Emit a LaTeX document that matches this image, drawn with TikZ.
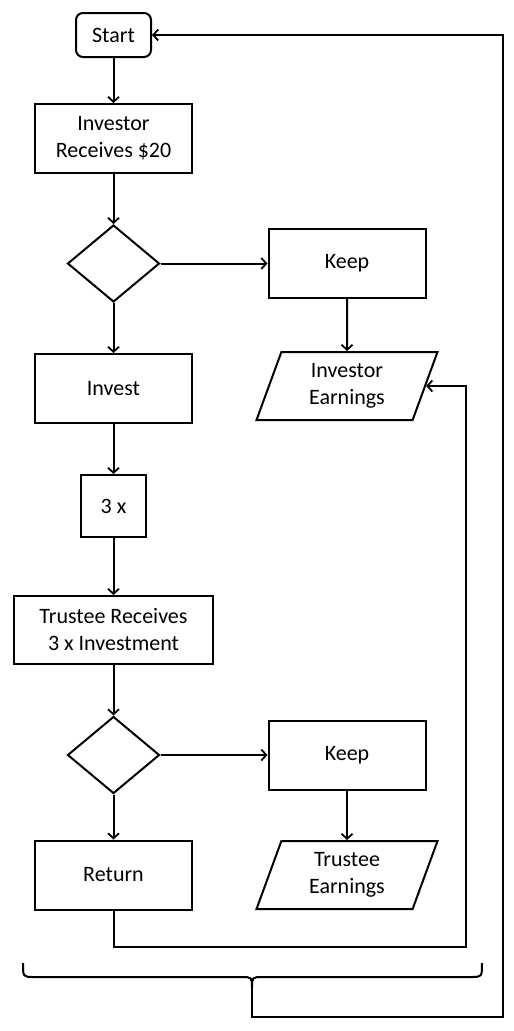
\documentclass[tikz,border=0pt]{standalone}
\usepackage{fontspec}
\setmainfont{Carlito}
\usetikzlibrary{shapes.geometric,arrows.meta}
\tikzset{
  box/.style={draw, line width=2pt, inner sep=0pt, align=center, font=\fontsize{22}{27}\selectfont},
  proc/.style={box, rectangle, minimum width=157pt, minimum height=69pt},
  dec/.style={draw, line width=2pt, diamond, inner sep=0pt, minimum width=92pt, minimum height=77pt},
  io/.style={box, trapezium, trapezium left angle=61, trapezium right angle=119, trapezium stretches body, minimum width=181pt, minimum height=68pt},
  conn/.style={line width=2pt},
  arr/.style={conn, -{Straight Barb[length=5pt,width=11pt,line width=1.8pt]}}
}
\begin{document}
\begin{tikzpicture}[x=1pt,y=-1pt]
\useasboundingbox (0,0) rectangle (514,1031);
\node[box, rectangle, rounded corners=7pt, minimum width=75pt, minimum height=44pt] (start) at (113.5,35) {Start};
\node[proc] (recv) at (113.5,138.5) {Investor\\Receives \$20};
\node[dec] (d1) at (113.5,263.5) {};
\node[proc] (keep1) at (347,263.5) {Keep};
\node[io] (ie) at (347,386) {Investor\\Earnings};
\node[proc] (invest) at (113.5,388.5) {Invest};
\node[box, rectangle, minimum width=65pt, minimum height=62pt] (three) at (113.5,506) {3 x};
\node[box, rectangle, minimum width=199pt, minimum height=68pt] (trecv) at (113.5,630) {Trustee Receives\\3 x Investment};
\node[dec] (d2) at (113.5,755) {};
\node[proc] (keep2) at (347,755) {Keep};
\node[proc] (ret) at (113.5,875) {Return};
\node[io] (te) at (347,875) {Trustee\\Earnings};

\draw[arr] (start) -- (recv);
\draw[arr] (recv) -- (d1);
\draw[arr] (d1) -- (keep1);
\draw[arr] (d1) -- (invest);
\draw[arr] (keep1) -- (ie);
\draw[arr] (invest) -- (three);
\draw[arr] (three) -- (trecv);
\draw[arr] (trecv) -- (d2);
\draw[arr] (d2) -- (keep2);
\draw[arr] (d2) -- (ret);
\draw[arr] (keep2) -- (te);

\coordinate (r1) at (466,947);
\draw[arr] (ret.south) |- (r1) |- (ie.east);

% brace
\coordinate (bl) at (23,963);
\coordinate (br) at (482,963);
\coordinate (tip) at (252,988);
\draw[conn] (bl) .. controls (23,977) .. (34,977) -- (241,977) .. controls (252,977) .. (tip);
\draw[conn] (br) .. controls (482,977) .. (471,977) -- (263,977) .. controls (252,977) .. (tip);
\coordinate (r2) at (503,1017);
\draw[arr] (tip) |- (r2) |- (start.east);
\end{tikzpicture}
\end{document}
